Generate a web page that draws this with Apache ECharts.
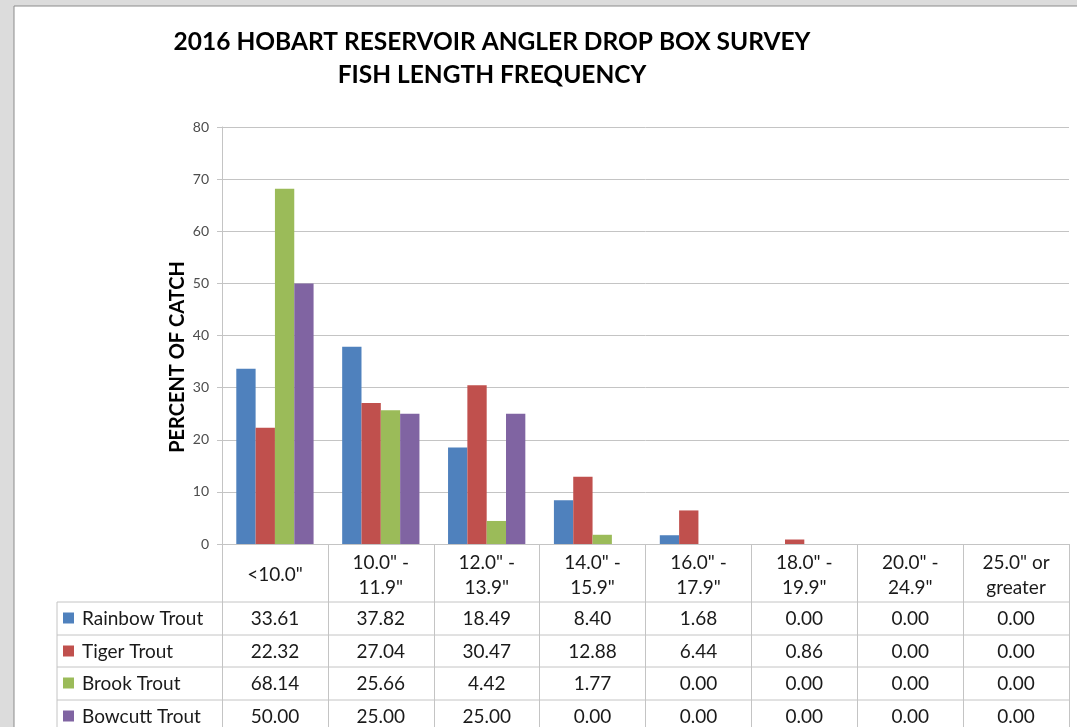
<!DOCTYPE html>
<html>
<head>
<meta charset="utf-8">
<script src="https://cdn.jsdelivr.net/npm/echarts@6/dist/echarts.min.js"></script>
<style>
  html, body { margin: 0; padding: 0; background: #dcdcdc; }
  #chart { width: 1077px; height: 727px; }
</style>
</head>
<body>
<div id="chart"></div>
<script>
var categories = ['<10.0"', '10.0" -\n11.9"', '12.0" -\n13.9"', '14.0" -\n15.9"',
    '16.0" -\n17.9"', '18.0" -\n19.9"', '20.0" -\n24.9"', '25.0" or\ngreater'];
var seriesNames = ['Rainbow Trout', 'Tiger Trout', 'Brook Trout', 'Bowcutt Trout'];
var colors = ['#4f81bd', '#c0504d', '#9bbb59', '#8064a2'];
var rainbow = [33.61, 37.82, 18.49, 8.40, 1.68, 0.00, 0.00, 0.00];
var tiger = [22.32, 27.04, 30.47, 12.88, 6.44, 0.86, 0.00, 0.00];
var brook = [68.14, 25.66, 4.42, 1.77, 0.00, 0.00, 0.00, 0.00];
var bowcutt = [50.00, 25.00, 25.00, 0.00, 0.00, 0.00, 0.00, 0.00];
var allData = [rainbow, tiger, brook, bowcutt];

var font = 'Lato, "Open Sans", sans-serif';
var lineColor = '#c4c4c4';

// table rows (y of top border)
var rowTops = [602, 635, 667, 700];
var rowH = 33;

var myChart = echarts.init(document.getElementById('chart'));
myChart.setOption({
    animation: false,
    backgroundColor: '#dcdcdc',
    grid: { left: 222, top: 127, right: 8, bottom: 183, containLabel: false },
    xAxis: {
        type: 'category',
        data: categories,
        axisLine: { lineStyle: { color: lineColor, width: 1 } },
        axisTick: { show: true, length: 190, lineStyle: { color: lineColor, width: 1 } },
        axisLabel: {
            margin: 31,
            verticalAlign: 'middle',
            fontFamily: font,
            fontSize: 19,
            lineHeight: 25,
            color: '#1a1a1a',
            interval: 0
        }
    },
    yAxis: {
        type: 'value',
        min: 0,
        max: 80,
        interval: 10,
        axisLine: { show: true, lineStyle: { color: lineColor } },
        axisTick: { show: true, length: 5, lineStyle: { color: lineColor } },
        axisLabel: { margin: 13, fontFamily: font, fontSize: 14, color: '#4d4d4d' },
        splitLine: { lineStyle: { color: lineColor, width: 1 } }
    },
    series: allData.map(function (d, i) {
        return {
            name: seriesNames[i],
            type: 'bar',
            data: d,
            barGap: '0%',
            barCategoryGap: '27%',
            itemStyle: { color: colors[i] }
        };
    })
});

// build the data table and the frame from the axis positions
var graphics = [];
graphics.push({
    type: 'rect', z: -10, silent: true,
    shape: { x: 14, y: 6, width: 1080, height: 740 },
    style: { fill: '#ffffff', stroke: '#8c8c8c', lineWidth: 1 }
});
graphics.push({
    type: 'text',
    style: {
        x: 492, y: 42, text: '2016 HOBART RESERVOIR ANGLER DROP BOX SURVEY',
        textAlign: 'center', textVerticalAlign: 'middle',
        font: 'bold 24.5px ' + font, fill: '#000'
    }
});
graphics.push({
    type: 'text',
    style: {
        x: 492, y: 75, text: 'FISH LENGTH FREQUENCY',
        textAlign: 'center', textVerticalAlign: 'middle',
        font: 'bold 24.5px ' + font, fill: '#000'
    }
});
graphics.push({
    type: 'text', x: 178, y: 357, rotation: Math.PI / 2,
    style: {
        x: 0, y: 0, text: 'PERCENT OF CATCH',
        textAlign: 'center', textVerticalAlign: 'middle',
        font: 'bold 20px ' + font, fill: '#000'
    }
});

var tableLeft = 57;
var tableRight = 1069;
graphics.push({
    type: 'line', silent: true,
    shape: { x1: tableLeft, y1: rowTops[0], x2: tableLeft, y2: 740 },
    style: { stroke: lineColor, lineWidth: 1 }
});
rowTops.forEach(function (y) {
    graphics.push({
        type: 'line', silent: true,
        shape: { x1: tableLeft, y1: y, x2: tableRight, y2: y },
        style: { stroke: lineColor, lineWidth: 1 }
    });
});

seriesNames.forEach(function (name, r) {
    var cy = rowTops[r] + rowH / 2;
    graphics.push({
        type: 'rect', silent: true,
        shape: { x: 63, y: cy - 6, width: 11, height: 11 },
        style: { fill: colors[r] }
    });
    graphics.push({
        type: 'text',
        style: {
            x: 82, y: cy, text: name, textVerticalAlign: 'middle',
            font: '19px ' + font, fill: '#1a1a1a'
        }
    });
    allData[r].forEach(function (v, c) {
        var cx = myChart.convertToPixel({ xAxisIndex: 0 }, c);
        graphics.push({
            type: 'text',
            style: {
                x: cx, y: cy, text: v.toFixed(2),
                textAlign: 'center', textVerticalAlign: 'middle',
                font: '19px ' + font, fill: '#1a1a1a'
            }
        });
    });
});

myChart.setOption({ graphic: graphics });
</script>
</body>
</html>
